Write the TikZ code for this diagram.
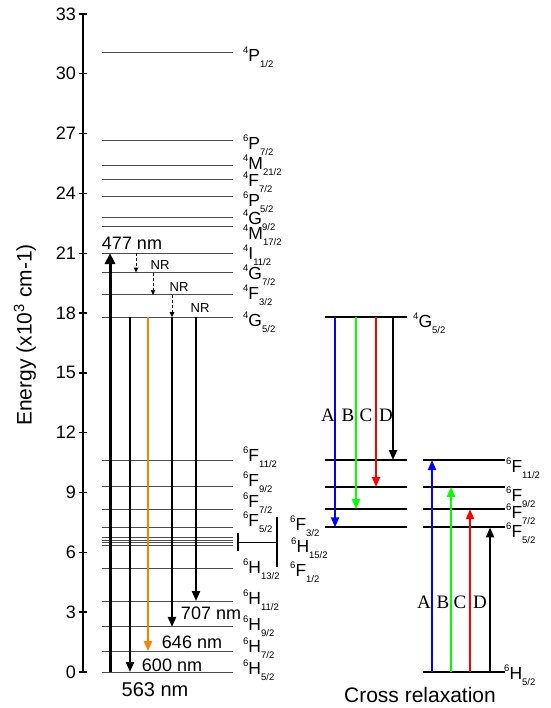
\documentclass[tikz,border=0pt]{standalone}
\usepackage{fontspec}
\setmainfont{Liberation Sans}
\newfontfamily\abcfont{Liberation Serif}
\usepackage{xcolor}
\usepackage{tikz}
\usetikzlibrary{arrows.meta}

\newcommand{\smallidx}{\fontsize{9.5}{9.5}\selectfont}
\newcommand{\term}[3]{\raisebox{8pt}{\smallidx #1}#2\raisebox{-6.5pt}{\smallidx #3}}

\begin{document}
\begin{tikzpicture}[
  x=1pt,
  y=19.94pt,
  font=\fontsize{18}{18}\selectfont,
  axis/.style={draw=black, line width=1.4pt},
  level/.style={draw=black!70, line width=1pt},
  crlevel/.style={draw=black, line width=2pt},
  emit/.style={line width=2pt, -{Triangle[length=10pt,width=8pt]}},
  nr/.style={line width=0.8pt, dash pattern=on 3pt off 2pt, -{Triangle[length=5pt,width=4.5pt]}},
  term/.style={anchor=base west, inner sep=0pt, yshift=-6.2pt, font=\fontsize{17.5}{17.5}\selectfont},
  nm/.style={inner sep=0pt},
  abc/.style={inner sep=0pt, font=\abcfont\fontsize{19}{19}\selectfont}
]
  \useasboundingbox (0,-1.805) rectangle (550,33.70);

  % energy axis
  \draw[axis] (83,0) -- (83,33);
  \foreach \y in {0,3,...,33} {
    \draw[axis] (79,\y) -- (87,\y);
    \node[anchor=east, inner sep=0pt] (tick\y) at (76,\y) {\y};
  }
  \node[rotate=90, font=\fontsize{21}{21}\selectfont] (ylabel) at (25,16.9)
    {Energy (x10\textsuperscript{3} cm-1)};

  % Sm3+ levels
  \def\levels{31.09,26.63,25.41,24.71,23.84,22.77,22.32,21.01,20.03,18.91,17.8,
    10.63,9.28,8.17,7.25,6.74,6.61,6.47,6.33,5.17,3.56,2.26,1.05,0}
  \foreach \e in \levels {
    \draw[level] (102,\e) -- (233,\e);
  }

  \foreach \up/\ltr/\dn/\e/\name in {
      4/P/{1/2}/30.94/P12, 6/P/{7/2}/26.53/P72, 4/M/{21/2}/25.53/M212,
      4/F/{7/2}/24.67/F72q, 6/P/{5/2}/23.67/P52, 4/G/{9/2}/22.77/G92,
      4/M/{17/2}/22.02/M172, 4/I/{11/2}/21.01/I112, 4/G/{7/2}/20.01/G72,
      4/F/{3/2}/19.01/F32q, 4/G/{5/2}/17.65/G52,
      6/F/{11/2}/10.88/F112, 6/F/{9/2}/9.63/F92, 6/F/{7/2}/8.58/F72,
      6/F/{5/2}/7.62/F52, 6/H/{13/2}/5.27/H132, 6/H/{11/2}/3.71/H112,
      6/H/{9/2}/2.41/H92, 6/H/{7/2}/1.30/H72, 6/H/{5/2}/0.20/H52} {
    \node[term] (\name) at (243,\e) {\term{\up}{\ltr}{\dn}};
  }

  % unresolved group
  \draw[line width=1.6pt] (238,6.07) -- (238,6.97);
  \draw[line width=1.6pt] (238,6.5) -- (277,6.5);
  \draw[line width=1.6pt] (277,7.77) -- (277,5.27);
  \node[term] (F32) at (290,7.42) {\term{6}{F}{3/2}};
  \node[term] (H152) at (291,6.32) {\term{6}{H}{15/2}};
  \node[term] (F12) at (290,5.12) {\term{6}{F}{1/2}};

  % excitation and relaxation
  \draw[emit, line width=3pt, -{Triangle[length=11pt,width=10pt]}] (110,0) -- (110,21.01);
  \node[nm] (ex477) at (132,21.51) {477 nm};
  \draw[nr] (136,21.01) -- (136,20.03);
  \draw[nr] (153,20.03) -- (153,18.91);
  \draw[nr] (172,18.91) -- (172,17.8);
  \node[nm, font=\fontsize{13}{13}\selectfont] (nr1) at (160,20.41) {NR};
  \node[nm, font=\fontsize{13}{13}\selectfont] (nr2) at (179,19.31) {NR};
  \node[nm, font=\fontsize{13}{13}\selectfont] (nr3) at (200,18.25) {NR};

  % emissions from 4G5/2
  \draw[emit] (130,17.8) -- (130,0);
  \draw[emit, orange] (148,17.8) -- (148,1.05);
  \draw[emit] (172,17.8) -- (172,2.26);
  \draw[emit] (196,17.8) -- (196,3.56);
  \node[nm] (em707) at (211,2.96) {707 nm};
  \node[nm] (em646) at (192,1.50) {646 nm};
  \node[nm] (em600) at (172,0.35) {600 nm};
  \node[nm, font=\fontsize{20}{20}\selectfont] (em563) at (155,-0.90) {563 nm};

  % cross relaxation
  \foreach \e in {17.8,10.63,9.28,8.17,7.25} {
    \draw[crlevel] (325,\e) -- (407,\e);
  }
  \foreach \e in {10.63,9.28,8.17,7.25,0} {
    \draw[crlevel] (423,\e) -- (505,\e);
  }
  \foreach \xa/\ea/\xb/\eb/\c in {335/7.25/432/10.63/blue, 356/8.17/451/9.28/green,
      376/9.28/470/8.17/red, 393/10.63/490/7.25/black} {
    \draw[emit, \c] (\xa,17.8) -- (\xa,\ea);
    \draw[emit, \c] (\xb,0) -- (\xb,\eb);
  }
  \foreach \l/\xa/\xb in {A/328/424, B/348/443, C/366/460, D/386/480} {
    \node[abc] (down\l) at (\xa,12.89) {\l};
    \node[abc] (up\l) at (\xb,3.51) {\l};
  }

  \node[term] (G52r) at (413,17.60) {\term{4}{G}{5/2}};
  \node[term] (F112r) at (506,10.33) {\term{6}{F}{11/2}};
  \node[term] (F92r) at (506,8.88) {\term{6}{F}{9/2}};
  \node[term] (F72r) at (506,8.02) {\term{6}{F}{7/2}};
  \node[term] (F52r) at (506,7.07) {\term{6}{F}{5/2}};
  \node[term] (H52r) at (504,-0.05) {\term{6}{H}{5/2}};
  \node[font=\fontsize{21}{21}\selectfont, inner sep=0pt] (crlabel) at (420,-1.15)
    {Cross relaxation};
\end{tikzpicture}
\end{document}
